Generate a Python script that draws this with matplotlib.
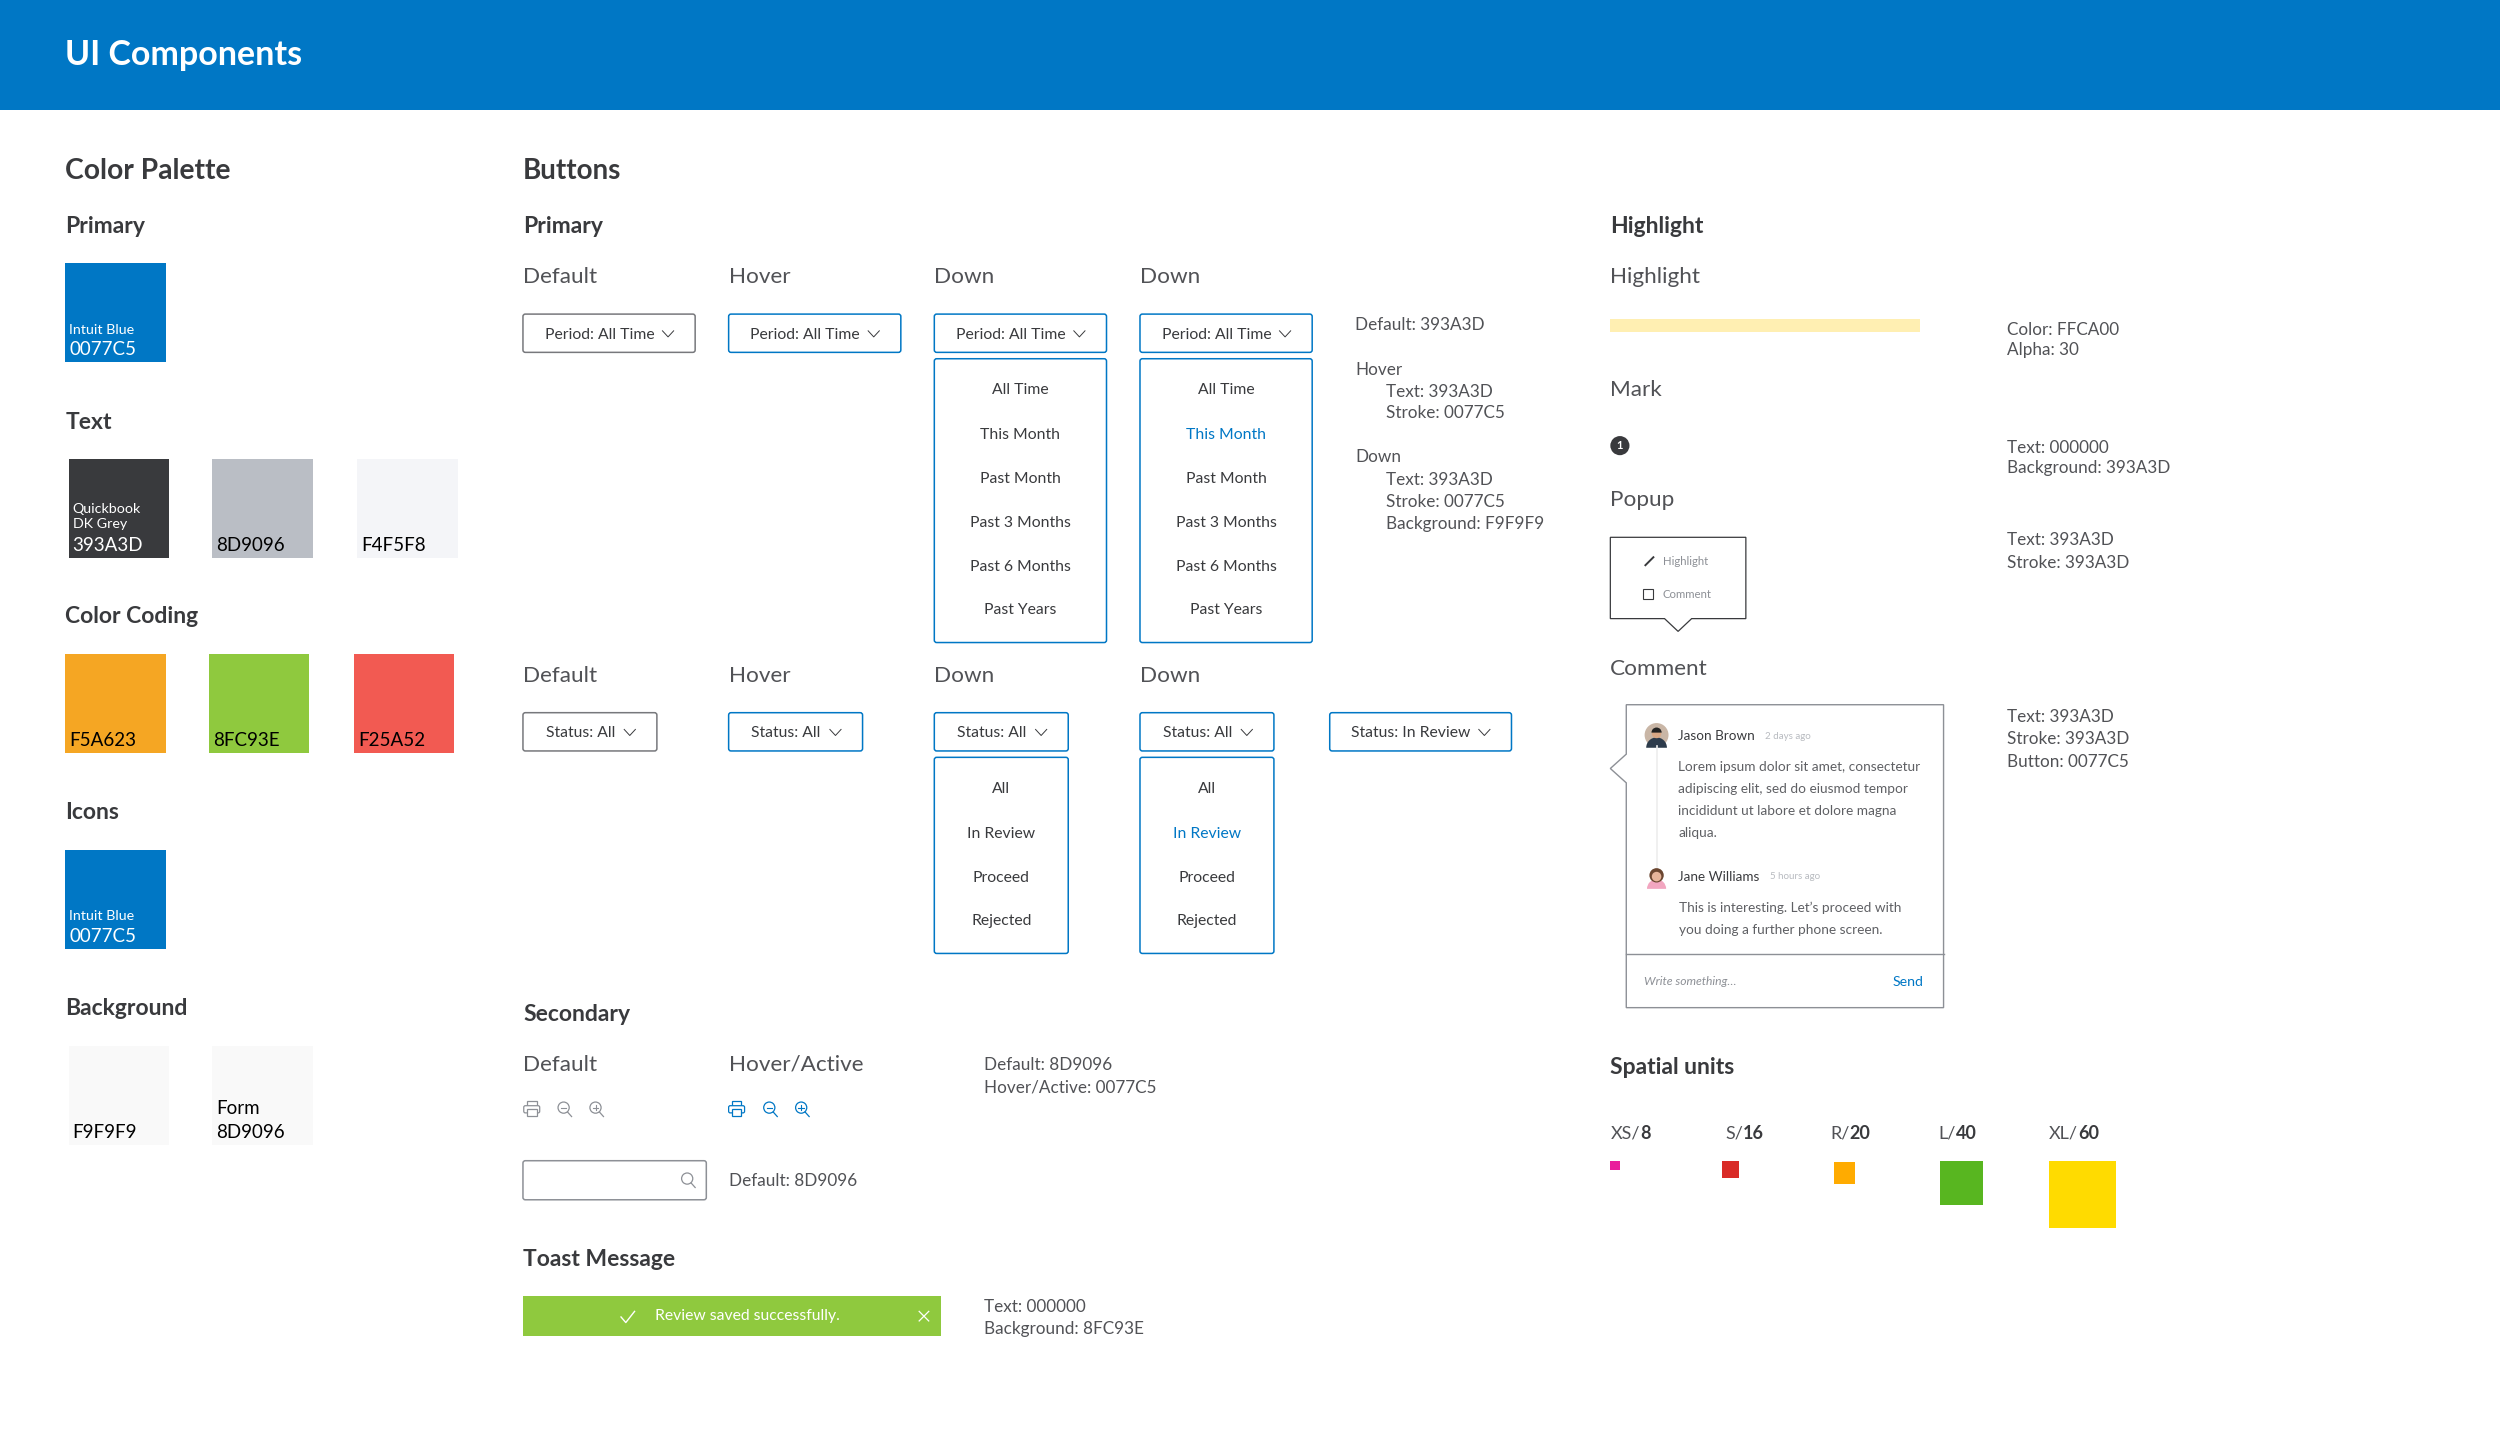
import matplotlib
matplotlib.use("Agg")
import matplotlib.pyplot as plt
from matplotlib.patches import Rectangle, FancyBboxPatch, Circle, Polygon, Wedge

BLUE = "#0077C5"
DARK = "#393A3D"
SOFT = "#515256"
GREY = "#8D9096"
GREEN = "#8FC93E"

plt.rcParams['font.family'] = ['Lato', 'DejaVu Sans']

swatch_x = [41, 43, 133, 224, 41, 131, 222, 41, 43, 133]
swatch_y = [165, 288, 288, 288, 410, 410, 410, 533, 656, 656]
swatch_fill = ["#0077C5", "#393A3D", "#BABEC5", "#F4F5F8", "#F5A623", "#8FC93E", "#F25A52", "#0077C5", "#F9F9F9", "#F9F9F9"]
swatch_name = ["Intuit Blue", "Quickbook\nDK Grey", "", "", "", "", "", "Intuit Blue", "", ""]
swatch_code = ["0077C5", "393A3D", "8D9096", "F4F5F8", "F5A623", "8FC93E", "F25A52", "0077C5", "F9F9F9", "8D9096"]
swatch_ink = ["white", "white", "black", "black", "black", "black", "black", "white", "black", "black"]

palette_heads = ["Primary", "Text", "Color Coding", "Icons", "Background"]
palette_head_y = [141, 264, 386, 509, 632]

period_items = ["All Time", "This Month", "Past Month", "Past 3 Months", "Past 6 Months", "Past Years"]
period_y = [244, 272, 299.5, 327, 355, 382]
status_items = ["All", "In Review", "Proceed", "Rejected"]
status_y = [494, 522, 550, 577]
state_names = ["Default", "Hover", "Down", "Down"]
state_x = [328, 457, 586, 715]

notes_x = [850, 850, 869, 869, 850, 869, 869, 869]
notes_y = [203, 231, 245, 258.5, 286, 300, 314, 328]
notes_txt = ["Default: 393A3D", "Hover", "Text: 393A3D", "Stroke: 0077C5", "Down", "Text: 393A3D", "Stroke: 0077C5", "Background: F9F9F9"]

side_y = [206, 219, 280, 293, 338, 352, 449, 463, 477]
side_txt = ["Color: FFCA00", "Alpha: 30", "Text: 000000", "Background: 393A3D", "Text: 393A3D", "Stroke: 393A3D",
            "Text: 393A3D", "Stroke: 393A3D", "Button: 0077C5"]

unit_names = ["XS/", "S/", "R/", "L/", "XL/"]
unit_vals = ["8", "16", "20", "40", "60"]
unit_label_x = [1010, 1082, 1148, 1216, 1285]
unit_left = [1010, 1080, 1150, 1216.5, 1285]
unit_size = [6, 11, 13.5, 27.5, 42]
unit_color = ["#E91E9C", "#D92B27", "#FFAB00", "#58B620", "#FFDB00"]

body1 = ["Lorem ipsum dolor sit amet, consectetur", "adipiscing elit, sed do eiusmod tempor", "incididunt ut labore et dolore magna", "aliqua."]
body1_y = [480.5, 494, 508, 521.5]
body2 = ["This is interesting. Let\u2019s proceed with", "you doing a further phone screen."]
body2_y = [568.5, 582.5]

W, H = 1568, 1441 / (2500 / 1568)
fig = plt.figure(figsize=(25, 14.41), dpi=100)
ax = fig.add_axes([0, 0, 1, 1])
ax.set_xlim(0, W)
ax.set_ylim(H, 0)
ax.axis("off")


def txt(x, y, s, size=12.3, color=DARK, weight="normal", ha="left", va="center", **kw):
    return ax.text(x, y + 0.8, s, fontsize=size, color=color, fontweight=weight, ha=ha, va=va, **kw)


def rrect(x0, y0, x1, y1, edge, face="white", lw=1.1, r=1.5):
    ax.add_patch(FancyBboxPatch((x0, y0), x1 - x0, y1 - y0, boxstyle="round,pad=0,rounding_size=%s" % r,
                                ec=edge, fc=face, lw=lw))


def chevron(x, y, color=DARK):
    ax.plot([x - 3.5, x, x + 3.5], [y - 2, y + 1.8, y - 2], color=color, lw=0.7)


def dropdown_btn(x0, y0, x1, label, edge):
    rrect(x0, y0, x1, y0 + 24, edge)
    txt(x0 + (x1 - x0) / 2 - 6, y0 + 12, label, size=11.3, ha="center")
    chevron(x1 - 17, y0 + 12.5)


def menu(x0, y0, x1, y1, items, ys, active=None):
    rrect(x0, y0, x1, y1, BLUE)
    for i in range(len(items)):
        txt((x0 + x1) / 2, ys[i], items[i], size=11.3, ha="center", color=BLUE if i == active else DARK)


def print_icon(x, y, c):
    ax.add_patch(Rectangle((x - 3, y - 5), 6, 3, fc="none", ec=c, lw=0.9))
    rrect(x - 5, y - 2, x + 5, y + 2.5, c, face="white", lw=0.9, r=1)
    ax.add_patch(Rectangle((x - 3, y), 6, 4.5, fc="white", ec=c, lw=0.9))


def zoom_icon(x, y, c, plus=False, minus=False):
    ax.add_patch(Circle((x - 0.5, y - 0.8), 3.5, fc="none", ec=c, lw=0.9))
    ax.plot([x + 2, x + 4.5], [y + 2, y + 4.8], color=c, lw=0.9)
    if minus or plus:
        ax.plot([x - 2.2, x + 1.2], [y - 0.8, y - 0.8], color=c, lw=0.8)
    if plus:
        ax.plot([x - 0.5, x - 0.5], [y - 2.5, y + 0.9], color=c, lw=0.8)


# header
ax.add_patch(Rectangle((0, 0), W, 69, fc=BLUE, ec="none"))
txt(41, 34, "UI Components", size=24.5, color="white", weight="bold")

txt(41, 106.5, "Color Palette", size=20.3, weight="bold")
txt(328, 106.5, "Buttons", size=20, weight="bold")

for i in range(len(palette_heads)):
    txt(41, palette_head_y[i], palette_heads[i], size=16.5, weight="bold")

for i in range(len(swatch_x)):
    x, y = swatch_x[i], swatch_y[i]
    ax.add_patch(Rectangle((x, y), 63, 62, fc=swatch_fill[i], ec="none"))
    txt(x + 2.5, y + 53.5, swatch_code[i], size=13.5, color=swatch_ink[i])
    if swatch_name[i]:
        y_name = y + 35 if "\n" in swatch_name[i] else y + 41
        txt(x + 2.5, y_name, swatch_name[i], size=10.3, color=swatch_ink[i], linespacing=1.3)
txt(135.5, 694.5, "Form", size=13.5, color="black")

# buttons, primary
txt(328, 141, "Primary", size=16.5, weight="bold")
for i in range(4):
    txt(state_x[i], 173, state_names[i], size=16.2, color=SOFT)
    txt(state_x[i], 423, state_names[i], size=16.2, color=SOFT)

dropdown_btn(328, 197, 436, "Period: All Time", "#77787C")
dropdown_btn(457, 197, 565, "Period: All Time", BLUE)
dropdown_btn(586, 197, 694, "Period: All Time", BLUE)
dropdown_btn(715, 197, 823, "Period: All Time", BLUE)
menu(586, 225, 694, 403, period_items, period_y)
menu(715, 225, 823, 403, period_items, period_y, active=1)

dropdown_btn(328, 447, 412, "Status: All", "#77787C")
dropdown_btn(457, 447, 541, "Status: All", BLUE)
dropdown_btn(586, 447, 670, "Status: All", BLUE)
dropdown_btn(715, 447, 799, "Status: All", BLUE)
dropdown_btn(834, 447, 948, "Status: In Review", BLUE)
menu(586, 475, 670, 598, status_items, status_y)
menu(715, 475, 799, 598, status_items, status_y, active=1)

for i in range(len(notes_txt)):
    txt(notes_x[i], notes_y[i], notes_txt[i], color=SOFT)

# secondary
txt(328, 635.5, "Secondary", size=16.5, weight="bold")
txt(328, 667, "Default", size=16.2, color=SOFT)
txt(457, 667, "Hover/Active", size=16.2, color=SOFT)
txt(617, 667, "Default: 8D9096", color=SOFT)
txt(617, 681, "Hover/Active: 0077C5", color=SOFT)
print_icon(333.5, 695.5, GREY)
zoom_icon(354, 695.5, GREY, minus=True)
zoom_icon(374, 695.5, GREY, plus=True)
print_icon(462, 695.5, BLUE)
zoom_icon(483, 695.5, BLUE, minus=True)
zoom_icon(503, 695.5, BLUE, plus=True)
rrect(328, 728, 443, 752.5, GREY)
zoom_icon(431.5, 740, GREY)
txt(457, 740, "Default: 8D9096", color=SOFT)

# toast
txt(328, 789, "Toast Message", size=16.5, weight="bold")
ax.add_patch(Rectangle((328, 813), 262, 25, fc=GREEN, ec="none"))
txt(411, 824.5, "Review saved successfully.", size=11.3, color="white")
ax.plot([389.5, 392.5, 398], [826, 829.5, 822.5], color="white", lw=1)
ax.plot([576.5, 582.5], [822.5, 828.5], color="white", lw=0.9)
ax.plot([576.5, 582.5], [828.5, 822.5], color="white", lw=0.9)
txt(617, 819, "Text: 000000", color=SOFT)
txt(617, 833, "Background: 8FC93E", color=SOFT)

# highlight column
txt(1010, 141, "Highlight", size=16.5, weight="bold")
txt(1010, 173, "Highlight", size=16.2, color=SOFT)
ax.add_patch(Rectangle((1010, 200), 194, 8, fc="#FFCA00", alpha=0.3, ec="none"))
txt(1010, 244, "Mark", size=16.2, color=SOFT)
ax.add_patch(Circle((1016, 279.5), 6, fc=DARK, ec="none"))
txt(1016, 278.7, "1", size=8, color="white", ha="center", weight="bold")
txt(1010, 312.5, "Popup", size=16.2, color=SOFT)
txt(1010, 419, "Comment", size=16.2, color=SOFT)

for i in range(len(side_txt)):
    txt(1259, side_y[i], side_txt[i], color=SOFT)

# popup box with pointer
ax.add_patch(Polygon([(1010, 337), (1095, 337), (1095, 388), (1061, 388), (1052.5, 396), (1044, 388), (1010, 388)],
                     closed=True, fc="white", ec=DARK, lw=0.9))
txt(1043, 351.5, "Highlight", size=8.2, color=GREY)
txt(1043, 372, "Comment", size=8.2, color=GREY)
ax.plot([1032, 1037], [354.5, 349.5], color=DARK, lw=1.4)
ax.add_patch(Rectangle((1030.5, 369.5), 6.5, 6, fc="white", ec=DARK, lw=0.8))

# comment box
ax.add_patch(Polygon([(1020, 442), (1219, 442), (1219, 632), (1020, 632), (1020, 491), (1010, 482), (1020, 473)],
                     closed=True, fc="white", ec=GREY, lw=1))
ax.plot([1020, 1219], [598.5, 598.5], color=GREY, lw=1)
ax.plot([1039, 1039], [468, 544], color="#EEEEEE", lw=1.2)
ax.add_patch(Circle((1039, 461), 7.5, fc="#C9B6A6", ec="none"))
ax.add_patch(Wedge((1039, 469), 6.5, 180, 360, fc="#2D3B4B", ec="none"))
ax.add_patch(Circle((1039, 460), 3, fc="#D9A785", ec="none"))
ax.add_patch(Wedge((1039, 459.5), 3.2, 180, 360, fc="#222222", ec="none"))
ax.add_patch(Wedge((1039, 557.5), 6, 180, 360, fc="#F2A6C0", ec="none"))
ax.add_patch(Circle((1039, 549), 4.5, fc="#6B4630", ec="none"))
ax.add_patch(Circle((1039, 549.8), 3, fc="#E6B49A", ec="none"))

txt(1052.5, 461, "Jason Brown", size=9.7)
txt(1107, 461, "2 days ago", size=7, color="#B8BBC0")
txt(1052.5, 549, "Jane Williams", size=9.7)
txt(1110, 549, "5 hours ago", size=7, color="#B8BBC0")
for i in range(len(body1)):
    txt(1052.5, body1_y[i], body1[i], size=9.8, color="#5F6064")
for i in range(len(body2)):
    txt(1053, body2_y[i], body2[i], size=9.8, color="#5F6064")
txt(1031, 615, "Write something\u2026", size=8.7, color=GREY, style="italic")
txt(1187, 615, "Send", size=10.2, color=BLUE)

# spatial units
txt(1010, 669, "Spatial units", size=16.5, weight="bold")
for i in range(len(unit_names)):
    t = txt(unit_label_x[i], 710, unit_names[i], size=13, color=SOFT)
    ax.annotate(unit_vals[i], xy=(1, 0.5), xycoords=t, va="center", fontsize=13, color=DARK, fontweight="bold")
    top = 729 if i == 2 else 728
    ax.add_patch(Rectangle((unit_left[i], top), unit_size[i], unit_size[i], fc=unit_color[i], ec="none"))

fig.savefig("out.png", dpi=100, facecolor="white")
